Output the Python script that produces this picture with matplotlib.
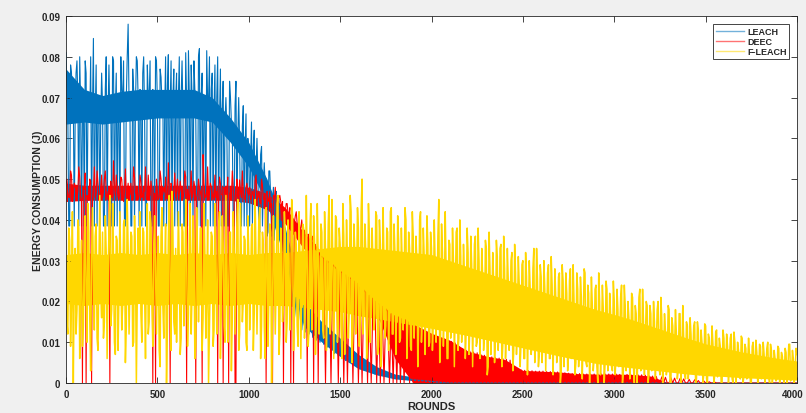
import numpy as np
import matplotlib
matplotlib.use("Agg")
import matplotlib.pyplot as plt
from matplotlib.ticker import FuncFormatter
from matplotlib.lines import Line2D
from matplotlib.transforms import ScaledTranslation

# values, in units of 1e-4 J
# *_vals: one sample every 10 rounds (0, 10, 20, ...)
# *_mid:  the samples in between (5, 15, 25, ...) where the trace is very noisy
ROUND_STEP = 10
MAX_ROUND = 4000

leach_vals = [
    # 0-190
    810, 660, 385, 760, 700, 640, 790, 385, 680, 650, 385, 760, 665, 640, 385, 845, 655, 385, 700, 645,
    # 200-390
    680, 385, 800, 660, 645, 385, 790, 670, 385, 650, 800, 680, 385, 700, 880, 660, 385, 720, 675, 790,
    # 400-590
    385, 690, 760, 660, 385, 700, 790, 385, 665, 800, 690, 385, 750, 700, 660, 385, 805, 680, 385, 770,
    # 600-790
    690, 385, 800, 700, 660, 385, 690, 815, 385, 700, 790, 660, 385, 820, 705, 385, 680, 815, 690, 385,
    # 800-990
    760, 670, 385, 800, 650, 385, 740, 640, 625, 385, 700, 615, 385, 740, 600, 590, 385, 680, 580, 385,
    # 1000-1190
    570, 545, 385, 620, 525, 510, 370, 580, 490, 475, 360, 520, 455, 445, 350, 470, 430, 420, 340, 400,
    # 1200-1390
    360, 330, 280, 240, 215, 160, 210, 140, 205, 130, 190, 125, 180, 120, 170, 112, 160, 105, 150, 100,
    # 1400-1590
    140, 95, 135, 88, 125, 80, 118, 72, 110, 66, 100, 60, 92, 55, 85, 50, 78, 45, 70, 40,
    # 1600-1790
    62, 36, 55, 32, 48, 28, 40, 25, 35, 22, 30, 20, 26, 18, 24, 16, 22, 15, 20, 14,
    # 1800-1990
    18, 12, 16, 10, 15, 9, 13, 8, 12, 7, 10, 6, 9, 5, 8, 5, 7, 4, 6, 3,
    # 2000-2090, zero afterwards
    5, 3, 4, 2, 3, 1, 2, 0, 1, 0,
]
leach_mid = [
    # 5-195
    700, 385, 780, 650, 385, 760, 690, 800, 385, 720, 790, 385, 700, 800, 670, 385, 780, 690, 385, 760,
    # 205-395
    385, 720, 385, 780, 700, 800, 385, 760, 690, 385, 720, 790, 385, 800, 690, 385, 770, 385, 800, 690,
    # 405-595
    720, 385, 800, 385, 780, 690, 385, 720, 385, 790, 385, 770, 690, 385, 800, 730, 385, 790, 700, 385,
    # 605-795
    760, 700, 385, 790, 385, 810, 385, 700, 780, 385, 720, 385, 800, 385, 760, 700, 385, 690, 800, 720,
    # 805-995
    385, 780, 700, 385, 770, 680, 385, 700, 385, 740, 640, 385, 680, 385, 700, 385, 630, 385, 660, 600,
    # 1005-1195
    385, 640, 580, 385, 600, 385, 560, 385, 540, 500, 370, 520, 360, 480, 460, 350, 450, 340, 420, 350,
]

deec_vals = [
    # 0-190
    490, 470, 455, 510, 465, 480, 450, 530, 460, 0, 475, 0, 450, 500, 0, 470, 455, 520, 460, 480,
    # 200-390
    455, 500, 465, 470, 0, 455, 545, 460, 475, 450, 505, 460, 470, 455, 490, 462, 448, 530, 465, 475,
    # 400-590
    458, 495, 462, 470, 450, 510, 460, 470, 455, 0, 470, 455, 500, 462, 468, 452, 540, 0, 465, 470,
    # 600-790
    455, 500, 465, 470, 450, 520, 0, 462, 470, 455, 495, 0, 465, 478, 455, 560, 460, 470, 450, 490,
    # 800-990
    465, 470, 455, 0, 505, 462, 0, 470, 455, 0, 468, 520, 452, 0, 460, 498, 455, 470, 450, 490,
    # 1000-1190
    460, 450, 470, 445, 510, 455, 445, 500, 450, 440, 470, 445, 430, 0, 450, 440, 425, 460, 430, 0,
    # 1200-1390
    420, 440, 410, 0, 405, 395, 420, 385, 375, 400, 365, 355, 0, 350, 340, 360, 330, 325, 0, 315,
    # 1400-1590
    310, 305, 0, 300, 295, 0, 290, 285, 280, 0, 275, 270, 0, 265, 0, 260, 255, 0, 250, 245,
    # 1600-1790
    0, 235, 0, 228, 222, 0, 215, 0, 208, 200, 0, 195, 0, 188, 0, 182, 176, 0, 170, 0,
    # 1800-1990
    165, 0, 162, 0, 158, 0, 155, 150, 0, 145, 0, 140, 0, 135, 0, 130, 0, 126, 0, 120,
    # 2000-2190
    0, 117, 0, 114, 0, 110, 0, 108, 0, 105, 0, 102, 0, 98, 0, 90, 0, 84, 0, 80,
    # 2200-2390
    0, 78, 0, 76, 0, 74, 0, 70, 0, 68, 0, 66, 0, 64, 0, 62, 0, 61, 0, 60,
    # 2400-2590
    0, 58, 0, 56, 0, 40, 0, 35, 0, 32, 0, 31, 0, 30, 0, 30, 0, 29, 0, 29,
    # 2600-2790
    0, 29, 0, 28, 0, 28, 0, 27, 0, 27, 0, 26, 0, 25, 0, 24, 0, 23, 0, 23,
    # 2800-2990
    0, 23, 0, 22, 0, 22, 0, 22, 0, 22, 0, 22, 0, 22, 0, 22, 0, 22, 0, 22,
    # 3000-3190
    0, 22, 0, 21, 0, 21, 0, 21, 0, 21, 0, 20, 0, 20, 0, 20, 0, 19, 0, 18,
    # 3200-3390
    0, 17, 0, 16, 0, 0, 15, 0, 14, 0, 0, 13, 0, 12, 0, 0, 11, 0, 10, 0,
    # 3400-3590, zero afterwards
    0, 9, 0, 0, 8, 0, 6, 0, 0, 5, 0, 0, 3, 0, 0, 2, 0, 0, 0, 0,
]
deec_mid = [
    # 5-195
    500, 455, 520, 445, 490, 470, 470, 505, 450, 480, 515, 460, 448, 495, 450, 530, 465, 490, 448, 510,
    # 205-395
    470, 520, 450, 465, 495, 460, 480, 510, 455, 470, 500, 445, 525, 465, 458, 490, 455, 505, 470, 450,
    # 405-595
    510, 455, 480, 530, 450, 470, 495, 0, 465, 500, 450, 520, 460, 480, 505, 455, 470, 490, 450, 515,
    # 605-795
    470, 450, 495, 460, 470, 505, 475, 450, 520, 465, 480, 455, 500, 470, 0, 490, 455, 530, 465, 480,
    # 805-995
    450, 510, 470, 455, 490, 462, 480, 450, 505, 465, 455, 480, 0, 500, 450, 470, 520, 455, 480, 465,
    # 1005-1195
    480, 455, 462, 495, 450, 470, 440, 485, 455, 0, 450, 470, 440, 460, 480, 435, 455, 445, 445, 425,
    # 1205-1395
    440, 415, 430, 400, 0, 410, 390, 405, 380, 370, 375, 360, 365, 345, 355, 0, 340, 330, 320, 310,
]

fleach_vals = [
    # 0-190
    300, 120, 350, 200, 0, 330, 180, 380, 240, 90, 340, 210, 440, 160, 310, 260, 360, 110, 290, 220,
    # 200-390
    370, 150, 320, 240, 460, 180, 300, 70, 350, 230, 280, 190, 400, 140, 330, 250, 360, 100, 310, 210,
    # 400-590
    290, 170, 380, 230, 320, 120, 420, 200, 340, 260, 300, 80, 360, 190, 270, 0, 350, 220, 470, 150,
    # 600-790
    330, 240, 290, 110, 370, 200, 310, 170, 440, 230, 350, 90, 300, 250, 380, 160, 320, 210, 0, 270,
    # 800-990
    360, 130, 310, 240, 420, 180, 340, 100, 290, 220, 370, 160, 330, 260, 450, 120, 300, 200, 350, 80,
    # 1000-1190
    320, 230, 390, 170, 300, 250, 430, 140, 340, 60, 310, 210, 370, 180, 290, 240, 460, 120, 330, 200,
    # 1200-1390
    360, 150, 300, 230, 410, 170, 340, 90, 320, 250, 380, 190, 290, 130, 440, 210, 350, 160, 310, 240,
    # 1400-1590
    370, 110, 330, 200, 460, 170, 300, 240, 400, 140, 340, 60, 360, 220, 310, 180, 420, 130, 330, 250,
    # 1600-1790
    380, 150, 500, 200, 330, 120, 360, 230, 290, 170, 410, 90, 340, 210, 300, 140, 370, 190, 430, 120,
    # 1800-1990
    320, 200, 350, 110, 290, 230, 400, 150, 330, 80, 360, 190, 300, 140, 420, 170, 310, 210, 340, 100,
    # 2000-2190
    330, 150, 290, 200, 450, 120, 320, 180, 280, 60, 340, 160, 300, 210, 380, 110, 310, 170, 270, 130,
    # 2200-2390
    320, 140, 290, 190, 360, 100, 300, 160, 260, 120, 330, 40, 280, 170, 250, 110, 310, 150, 340, 90,
    # 2400-2590
    280, 130, 250, 170, 320, 80, 270, 150, 240, 100, 300, 60, 260, 140, 230, 90, 330, 120, 250, 70,
    # 2600-2790
    260, 110, 230, 150, 290, 60, 240, 130, 210, 80, 270, 30, 250, 120, 220, 70, 280, 100, 200, 50,
    # 2800-2990
    230, 90, 210, 130, 270, 40, 220, 110, 190, 60, 240, 0, 200, 100, 180, 50, 230, 80, 170, 30,
    # 3000-3190
    200, 70, 180, 110, 240, 30, 190, 90, 160, 50, 210, 0, 170, 80, 230, 40, 150, 100, 190, 20,
    # 3200-3390
    170, 60, 150, 90, 200, 20, 160, 70, 130, 40, 180, 0, 140, 80, 120, 30, 170, 50, 110, 10,
    # 3400-3590
    140, 50, 120, 70, 150, 10, 130, 60, 100, 20, 140, 0, 110, 50, 95, 20, 130, 40, 90, 0,
    # 3600-3790
    110, 30, 90, 50, 120, 0, 100, 40, 80, 10, 110, 20, 85, 45, 70, 0, 100, 30, 75, 15,
    # 3800-4000
    90, 20, 70, 40, 100, 0, 80, 30, 60, 10, 85, 25, 65, 0, 75, 35, 95, 15, 60, 30,
    70,
]
fleach_mid = [
    # 5-195
    150, 380, 90, 420, 260, 120, 400, 60, 350, 140, 410, 100, 370, 30, 430, 130, 390, 80, 460, 160,
    # 205-395
    110, 410, 60, 380, 140, 440, 100, 360, 80, 420, 130, 390, 50, 450, 120, 370, 90, 410, 0, 380,
    # 405-595
    420, 100, 370, 60, 440, 150, 390, 90, 410, 120, 360, 40, 430, 110, 390, 140, 460, 80, 370, 120,
    # 605-795
    100, 420, 70, 390, 140, 450, 90, 360, 120, 410, 60, 430, 150, 380, 80, 440, 110, 400, 130, 370,
    # 805-995
    90, 440, 120, 380, 60, 410, 140, 460, 100, 370, 30, 420, 120, 390, 80, 440, 150, 360, 100, 410,
    # 1005-1195
    130, 380, 80, 450, 120, 400, 60, 370, 140, 430, 90, 390, 0, 410, 120, 440, 70, 380, 150, 420,
    # 1205-1395
    100, 400, 130, 450, 80, 370, 140, 420, 60, 390, 110, 460, 90, 380, 130, 410, 70, 440, 120, 390,
    # 1405-1595
    130, 420, 80, 390, 120, 450, 60, 410, 100, 380, 140, 440, 70, 400, 110, 460, 50, 390, 120, 430,
    # 1605-1795
    90, 420, 120, 390, 60, 440, 100, 380, 130, 420, 70, 400, 40, 430, 110, 380, 80, 420, 120, 390,
    # 1805-1995
    70, 410, 100, 380, 130, 430, 60, 370, 90, 420, 110, 360, 40, 400, 100, 380, 70, 410, 90, 370,
    # 2005-2195
    80, 400, 100, 360, 50, 390, 90, 420, 60, 350, 110, 380, 40, 370, 80, 400, 100, 340, 60, 380,
    # 2205-2395
    70, 360, 40, 340, 90, 380, 60, 330, 80, 350, 20, 370, 70, 320, 50, 350, 80, 330, 40, 360,
    # 2405-2595
    60, 330, 80, 300, 30, 340, 70, 310, 40, 290, 60, 320, 20, 300, 70, 280, 50, 330, 40, 290,
    # 2605-2795
    50, 300, 30, 270, 60, 310, 20, 280, 50, 260, 0, 290, 40, 270, 30, 250, 60, 290, 20, 270,
    # 2805-2995
    40, 260, 10, 280, 50, 240, 0, 260, 30, 230, 40, 270, 20, 240, 0, 250, 30, 220, 40, 250,
    # 3005-3195
    20, 230, 40, 210, 0, 240, 30, 200, 10, 220, 40, 190, 0, 210, 30, 230, 20, 200, 0, 190,
    # 3205-3395
    30, 200, 10, 180, 40, 210, 0, 170, 20, 190, 0, 160, 30, 180, 10, 170, 0, 190, 20, 150,
    # 3405-3595
    10, 160, 30, 140, 0, 150, 20, 130, 0, 145, 10, 120, 25, 140, 0, 125, 15, 110, 0, 130,
    # 3605-3795
    20, 120, 0, 110, 10, 125, 0, 100, 20, 115, 0, 95, 10, 110, 0, 90, 15, 105, 0, 95,
    # 3805-3995
    10, 100, 0, 85, 15, 95, 0, 80, 5, 90, 0, 75, 10, 85, 0, 95, 5, 80, 0, 85,
]

# dense core of each noisy band, read every 100 rounds (1e-4 J)
CORE_STEP = 100
leach_core_hi = [770, 720, 705, 715, 720, 720, 720, 720, 700, 650, 590, 500, 380, 200, 150,
                 110, 70, 40, 22, 15, 8, 0]
leach_core_lo = [635, 640, 635, 640, 645, 650, 650, 650, 640, 590, 530, 440, 300, 140, 100,
                 65, 35, 20, 10, 6, 2, 0]
deec_core_hi = [490, 485, 485, 485, 485, 485, 485, 485, 485, 485, 480, 465, 430, 370, 320,
                285, 240, 200, 168, 145, 122, 105, 78, 66, 58, 31, 29, 27, 23, 22,
                22, 21, 17, 0]
deec_core_lo = [445, 448, 448, 448, 448, 448, 448, 448, 448, 448, 442, 425, 390, 330, 290,
                255, 210, 170, 60, 0, 0, 0, 0, 0, 0, 0, 0, 0, 0, 0,
                0, 0, 0, 0]
fleach_core_hi = [315, 320, 315, 320, 315, 320, 315, 320, 315, 320, 315, 320, 320, 325, 330,
                  335, 335, 330, 325, 320, 315, 300, 285, 270, 255, 240, 225, 210, 195, 180,
                  168, 155, 140, 125, 110, 96, 86, 76, 68, 60, 54]
fleach_core_lo = [195, 190, 195, 190, 195, 190, 195, 190, 195, 190, 195, 190, 190, 185, 180,
                  175, 165, 158, 150, 142, 134, 125, 116, 106, 96, 86, 76, 66, 57, 48,
                  42, 37, 32, 27, 22, 18, 16, 13, 11, 9, 7]

series_names = ["LEACH", "DEEC", "F-LEACH"]
series_colors = ["#0072BD", "#FF0000", "#FFD700"]
series_widths = [0.8, 0.8, 1.1]
x_ticks = [0, 500, 1000, 1500, 2000, 2500, 3000, 3500, 4000]
y_ticks = [0, 0.01, 0.02, 0.03, 0.04, 0.05, 0.06, 0.07, 0.08, 0.09]

rounds = np.arange(0, MAX_ROUND + 1, ROUND_STEP)


def trace(vals, mid):
    # pad the tail with the zeros seen on the chart, merge in the in-between samples
    vals = list(vals) + [0] * (len(rounds) - len(vals))
    x = np.concatenate([rounds, np.arange(len(mid)) * ROUND_STEP + ROUND_STEP / 2])
    y = np.concatenate([vals, mid]).astype(float)
    order = np.argsort(x, kind="stable")
    return x[order], y[order] / 1e4


plt.rcParams["font.family"] = ["Liberation Sans", "DejaVu Sans"]
plt.rcParams["font.weight"] = "bold"

fig = plt.figure(figsize=(8.06, 4.14), dpi=100, facecolor="#f0f0f0")
ax = fig.add_axes([66 / 806, 30 / 414, 731 / 806, 367 / 414])
ax.set_facecolor("white")

series = [
    (leach_vals, leach_mid, leach_core_lo, leach_core_hi),
    (deec_vals, deec_mid, deec_core_lo, deec_core_hi),
    (fleach_vals, fleach_mid, fleach_core_lo, fleach_core_hi),
]
for (vals, mid, lo, hi), name, color, lw in zip(series, series_names, series_colors, series_widths):
    cx = np.arange(len(hi)) * CORE_STEP
    ax.fill_between(cx, np.array(lo) / 1e4, np.array(hi) / 1e4, color=color, linewidth=0)
    x, y = trace(vals, mid)
    ax.plot(x, y, color=color, linewidth=lw, label=name)

ax.set_xlim(0, 4000)
ax.set_ylim(0, 0.09)
ax.set_xticks(x_ticks)
ax.set_yticks(y_ticks)
ax.yaxis.set_major_formatter(FuncFormatter(lambda v, p: "0" if v == 0 else f"{v:.2f}"))
ax.tick_params(direction="in", length=4, width=0.6, top=True, right=True,
               labelsize=7, colors="#262626", pad=4)
for sp in ax.spines.values():
    sp.set_color("#262626")
    sp.set_linewidth(0.6)

# last x label sits right at the figure edge; nudge it in a little
last = ax.get_xticklabels()[-1]
last.set_transform(last.get_transform() + ScaledTranslation(-3 / 72, 0, fig.dpi_scale_trans))

ax.set_xlabel("ROUNDS", fontsize=8, fontweight="bold", color="#262626", labelpad=2)
ax.set_ylabel("ENERGY CONSUMPTION (J)", fontsize=7.5, fontweight="bold", color="#262626", labelpad=-1)

handles = [Line2D([], [], color=c, linewidth=1.0, alpha=0.55) for c in series_colors]
leg = ax.legend(handles, series_names, loc="upper right", fontsize=6.5, frameon=True,
                fancybox=False, framealpha=1, edgecolor="#262626", borderpad=0.3,
                handlelength=3.2, handletextpad=0.3, labelspacing=0.15,
                borderaxespad=0, bbox_to_anchor=(0.9895, 0.978))
leg.get_frame().set_linewidth(0.6)
for t in leg.get_texts():
    t.set_fontweight("bold")
    t.set_color("#262626")

fig.savefig("out.png", dpi=100, facecolor=fig.get_facecolor())
